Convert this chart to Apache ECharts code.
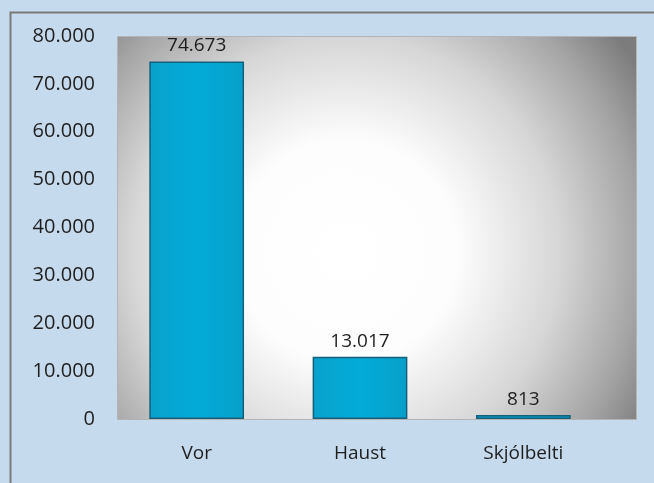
<!DOCTYPE html>
<html>
<head>
<meta charset="utf-8">
<script src="https://cdn.jsdelivr.net/npm/echarts@6/dist/echarts.min.js"></script>
<style>
  html, body { margin: 0; padding: 0; background: #c6daed; }
  #main { width: 654px; height: 483px; }
</style>
</head>
<body>
<div id="main"></div>
<script>
var categories = ['Vor', 'Haust', 'Skjólbelti'];
var values = [74673, 13017, 813];
var yTicks = [0, 10000, 20000, 30000, 40000, 50000, 60000, 70000, 80000];

// 74673 -> "74.673"
function fmt(v) {
  return String(v).replace(/\B(?=(\d{3})+(?!\d))/g, '.');
}

var chart = echarts.init(document.getElementById('main'));

var option = {
  backgroundColor: '#c6daed',
  animation: false,
  textStyle: { fontFamily: 'Open Sans' },
  graphic: [{
    type: 'rect',
    left: 8,
    top: 10,
    shape: { width: 660, height: 490 },
    style: { fill: 'none', stroke: '#7a7a7a', lineWidth: 2 },
    z: -10
  }, {
    // plot area backdrop
    type: 'rect',
    left: 117,
    top: 36,
    shape: { width: 519, height: 383 },
    style: {
      fill: new echarts.graphic.RadialGradient(0.44, 0.56, 0.9, [
        { offset: 0, color: '#ffffff' },
        { offset: 0.32, color: '#fdfdfd' },
        { offset: 0.62, color: '#d6d6d6' },
        { offset: 0.85, color: '#a4a4a4' },
        { offset: 1, color: '#7c7c7c' }
      ]),
      stroke: '#b4b4b4',
      lineWidth: 1
    },
    z: -5
  }],
  grid: {
    left: 115,
    right: 49,
    top: 36,
    bottom: 64
  },
  xAxis: {
    type: 'category',
    data: categories,
    axisLine: { show: false },
    axisTick: { show: false },
    axisLabel: { margin: 25, fontSize: 19, color: '#1e1e1e' }
  },
  yAxis: {
    type: 'value',
    min: yTicks[0],
    max: yTicks[yTicks.length - 1],
    interval: 10000,
    splitLine: { show: false },
    axisLine: { show: false },
    axisTick: { show: false },
    axisLabel: { margin: 20, fontSize: 20, color: '#1e1e1e', formatter: fmt }
  },
  series: [{
    type: 'bar',
    data: values,
    barWidth: '58%',
    itemStyle: {
      color: new echarts.graphic.LinearGradient(0, 0, 1, 0, [
        { offset: 0, color: '#08a2cc' },
        { offset: 0.5, color: '#03abd8' },
        { offset: 1, color: '#06a0c9' }
      ]),
      borderColor: '#145f7c',
      borderWidth: 1.5
    },
    label: {
      show: true,
      position: 'top',
      distance: 6,
      fontSize: 19,
      color: '#1e1e1e',
      formatter: function (p) { return fmt(p.value); }
    }
  }]
};

chart.setOption(option);
</script>
</body>
</html>
